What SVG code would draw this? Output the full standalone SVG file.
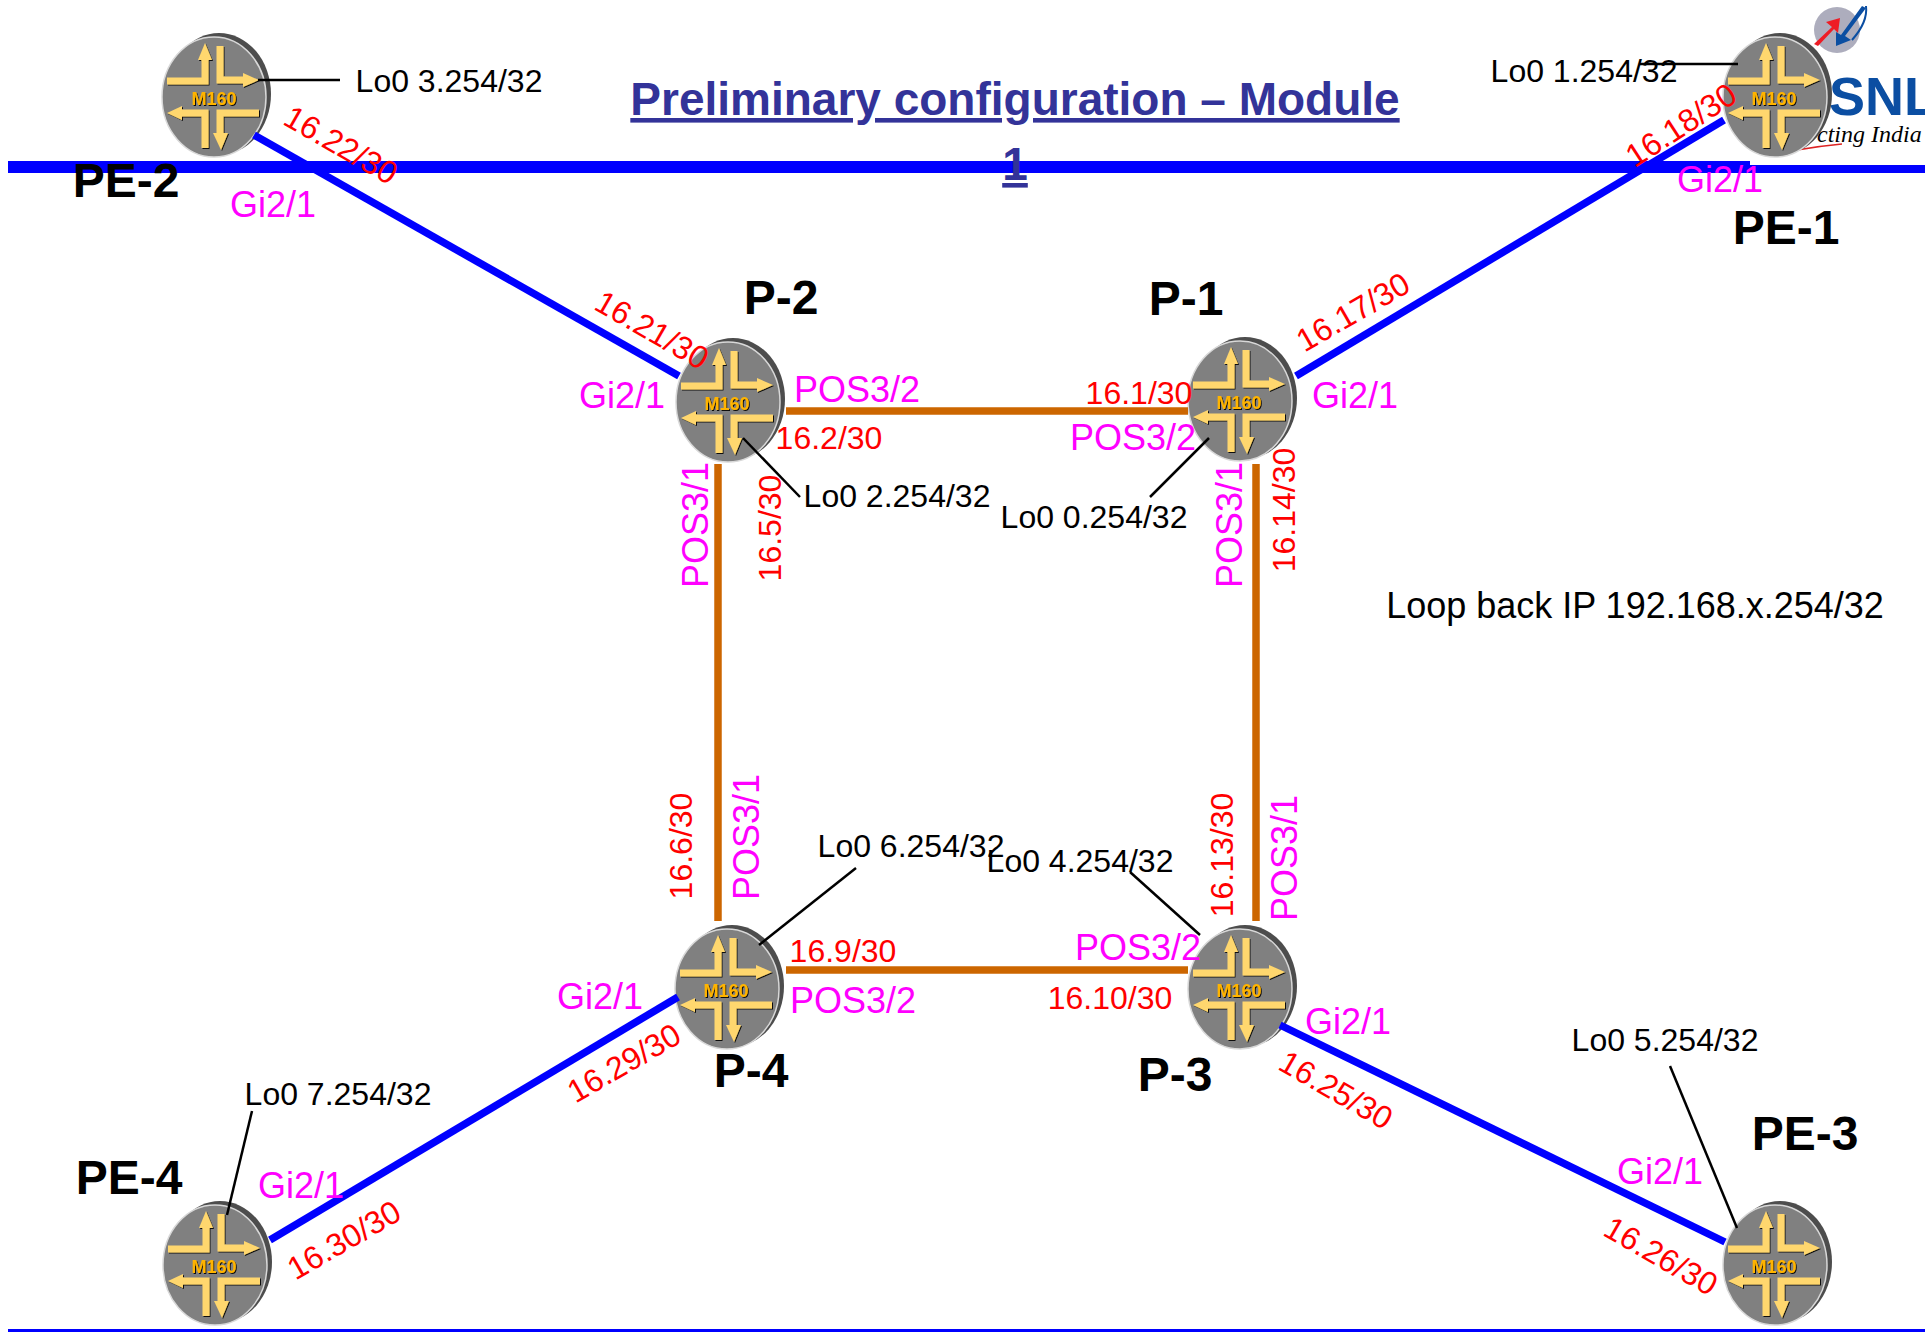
<svg xmlns="http://www.w3.org/2000/svg" width="1925" height="1332" viewBox="0 0 1925 1332">
<style>
text{font-family:"Liberation Sans",Arial,sans-serif}
.r{font-size:32px;fill:#f00;text-anchor:middle}
.m{font-size:36px;fill:#f0f;text-anchor:middle}
.k{font-size:32px;fill:#000;text-anchor:middle}
.b{font-size:48px;font-weight:bold;fill:#000;text-anchor:middle}
.t{font-size:46px;font-weight:bold;fill:#333399;text-anchor:middle;text-decoration:underline}
.c160{font-size:18px;font-weight:bold;fill:#ffb400;text-anchor:middle;filter:url(#sh)}
.blue{stroke:#00f;stroke-width:7.5;fill:none}
.or{stroke:#cc6600;stroke-width:7.5;fill:none}
.lead{stroke:#000;stroke-width:2.5;fill:none}
.arm{fill:none;stroke:#ffd76e;stroke-width:7}
</style>
<defs>
<filter id="sh" x="-20%" y="-20%" width="140%" height="140%"><feDropShadow dx="1" dy="1" stdDeviation="0.3" flood-color="#000" flood-opacity="0.9"/></filter>
<g id="router">
<ellipse cx="3" cy="-1" rx="52" ry="61" fill="#4d4d4d"/>
<ellipse cx="-2" cy="2" rx="52" ry="60" fill="#808080" stroke="#d8d8d8" stroke-width="1.5"/>
<g filter="url(#sh)">
<path class="arm" d="M-49-14H-11V-40"/><path d="M-11-52L-18-35H-4Z" fill="#ffd76e"/>
<path class="arm" d="M4-49V-15H30"/><path d="M43-15L27-22V-8Z" fill="#ffd76e"/>
<path class="arm" d="M43 18H4V42"/><path d="M5 55L-3 38H12Z" fill="#ffd76e"/>
<path class="arm" d="M-11 53V18H-38"/><path d="M-49 18L-34 11V25Z" fill="#ffd76e"/>
</g>
</g>
</defs>
<g id="backbone-band">
<rect x="8" y="161" width="1742" height="12" fill="#00f"/>
<rect x="1750" y="165" width="175" height="8" fill="#00f"/>
<rect x="8" y="1329" width="1917" height="3" fill="#00f"/>
</g>
<g id="title">
<text class="t" x="1015" y="115">Preliminary configuration – Module</text>
<text class="t" x="1015" y="180">1</text>
</g>
<g id="logo">
<circle cx="1837" cy="30" r="23" fill="#adadbd"/>
<path d="M1814 44L1832 27L1826 22L1840 18L1838 33L1834 29L1818 46Z" fill="#ee1c25"/>
<path d="M1866 8L1845 36L1851 40L1836 46L1836 32L1841 35L1862 6Z" fill="#0b4ea2"/>
<path d="M1866 6Q1868 22 1852 40" fill="none" stroke="#0b4ea2" stroke-width="2"/>
<text x="1829" y="115" font-size="54" font-weight="bold" fill="#0b4ea2" style="font-family:'Liberation Sans',sans-serif">SNL</text>
<text x="1817" y="142" font-size="24" font-style="italic" fill="#000" style="font-family:'Liberation Serif',serif">cting India</text>
<path d="M1797 150Q1820 146 1842 144" fill="none" stroke="#d22" stroke-width="1.5"/>
</g>
<g id="PE-2"><use href="#router" x="216" y="95"/><text class="c160" x="214" y="105">M160</text><text class="b" x="126" y="197">PE-2</text></g>
<g id="PE-1"><use href="#router" x="1777" y="95"/><text class="c160" x="1774" y="105">M160</text><text class="b" x="1786" y="244">PE-1</text></g>
<g id="P-2"><use href="#router" x="730" y="400"/><text class="c160" x="727" y="410">M160</text><text class="b" x="781" y="314">P-2</text></g>
<g id="P-1"><use href="#router" x="1242" y="399"/><text class="c160" x="1239" y="409">M160</text><text class="b" x="1186" y="315">P-1</text></g>
<g id="P-4"><use href="#router" x="729" y="987"/><text class="c160" x="726" y="997">M160</text><text class="b" x="751" y="1087">P-4</text></g>
<g id="P-3"><use href="#router" x="1242" y="987"/><text class="c160" x="1239" y="997">M160</text><text class="b" x="1175" y="1091">P-3</text></g>
<g id="PE-4"><use href="#router" x="217" y="1263"/><text class="c160" x="214" y="1273">M160</text><text class="b" x="129" y="1194">PE-4</text></g>
<g id="PE-3"><use href="#router" x="1777" y="1263"/><text class="c160" x="1774" y="1273">M160</text><text class="b" x="1805" y="1150">PE-3</text></g>
<g id="connectors">
<path class="blue" d="M254 135L679 376"/>
<path class="blue" d="M1724 120L1296 376"/>
<path class="blue" d="M270 1240L678 997"/>
<path class="blue" d="M1280 1025L1725 1242"/>
<path class="or" d="M786 411H1188"/>
<path class="or" d="M786 970H1188"/>
<path class="or" d="M718 464V921"/>
<path class="or" d="M1256 464V921"/>
<path class="lead" d="M258 80H340"/>
<path class="lead" d="M1639 64H1738"/>
<path class="lead" d="M743 438L800 497"/>
<path class="lead" d="M1209 438L1150 497"/>
<path class="lead" d="M856 868L759 945"/>
<path class="lead" d="M1130 872L1200 935"/>
<path class="lead" d="M252 1111L227 1215"/>
<path class="lead" d="M1670 1066L1737 1228"/>
</g>
<g id="ip-labels">
<text class="r" transform="translate(341,145) rotate(30)" y="11">16.22/30</text>
<text class="r" transform="translate(652,330) rotate(30)" y="11">16.21/30</text>
<text class="r" transform="translate(1681,125) rotate(-33)" y="11">16.18/30</text>
<text class="r" transform="translate(1353,312) rotate(-30)" y="11">16.17/30</text>
<text class="r" x="1139" y="404">16.1/30</text>
<text class="r" x="829" y="449">16.2/30</text>
<text class="r" transform="translate(770,528) rotate(-90)" y="11">16.5/30</text>
<text class="r" transform="translate(1284,510) rotate(-90)" y="11">16.14/30</text>
<text class="r" transform="translate(681,846) rotate(-90)" y="11">16.6/30</text>
<text class="r" transform="translate(1222,855) rotate(-90)" y="11">16.13/30</text>
<text class="r" x="843" y="962">16.9/30</text>
<text class="r" x="1110" y="1009">16.10/30</text>
<text class="r" transform="translate(624,1063) rotate(-30)" y="11">16.29/30</text>
<text class="r" transform="translate(1336,1090) rotate(30)" y="11">16.25/30</text>
<text class="r" transform="translate(1661,1256) rotate(30)" y="11">16.26/30</text>
<text class="r" transform="translate(344,1240) rotate(-30)" y="11">16.30/30</text>
</g>
<g id="interface-labels">
<text class="m" x="273" y="217">Gi2/1</text>
<text class="m" x="1720" y="192">Gi2/1</text>
<text class="m" x="622" y="408">Gi2/1</text>
<text class="m" x="1355" y="408">Gi2/1</text>
<text class="m" x="600" y="1009">Gi2/1</text>
<text class="m" x="1348" y="1034">Gi2/1</text>
<text class="m" x="301" y="1198">Gi2/1</text>
<text class="m" x="1660" y="1184">Gi2/1</text>
<text class="m" x="857" y="402">POS3/2</text>
<text class="m" x="1133" y="450">POS3/2</text>
<text class="m" x="1138" y="960">POS3/2</text>
<text class="m" x="853" y="1013">POS3/2</text>
<text class="m" transform="translate(695,525) rotate(-90)" y="13">POS3/1</text>
<text class="m" transform="translate(1229,525) rotate(-90)" y="13">POS3/1</text>
<text class="m" transform="translate(746,837) rotate(-90)" y="13">POS3/1</text>
<text class="m" transform="translate(1284,858) rotate(-90)" y="13">POS3/1</text>
</g>
<g id="loopback-labels">
<text class="k" x="449" y="92">Lo0 3.254/32</text>
<text class="k" x="1584" y="82">Lo0 1.254/32</text>
<text class="k" x="897" y="507">Lo0 2.254/32</text>
<text class="k" x="1094" y="528">Lo0 0.254/32</text>
<text class="k" x="911" y="857">Lo0 6.254/32</text>
<text class="k" x="1080" y="872">Lo0 4.254/32</text>
<text class="k" x="338" y="1105">Lo0 7.254/32</text>
<text class="k" x="1665" y="1051">Lo0 5.254/32</text>
<text class="k" x="1635" y="618" style="font-size:36px">Loop back IP 192.168.x.254/32</text>
</g>
</svg>
